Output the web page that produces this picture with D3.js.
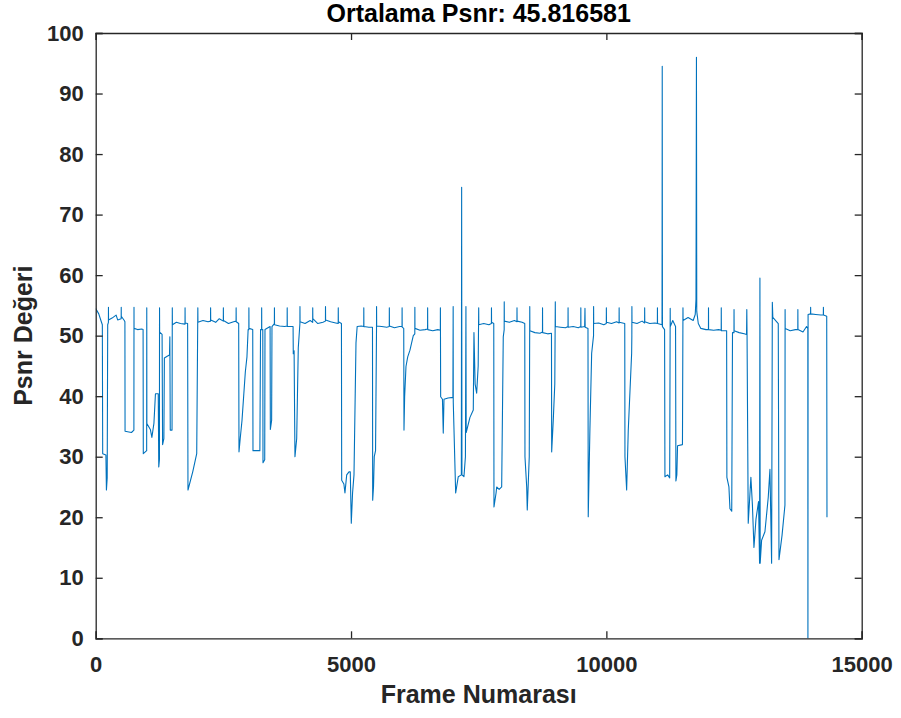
<!DOCTYPE html>
<html>
<head>
<meta charset="utf-8">
<script src="https://cdn.jsdelivr.net/npm/d3@7"></script>
<style>
  html, body { margin: 0; padding: 0; background: #fff; }
  svg { display: block; }
</style>
</head>
<body>
<div id="chart"></div>
<script>
// PSNR per frame, MATLAB-style line plot

const TITLE = 'Ortalama Psnr: 45.816581';
const X_LABEL = 'Frame Numarası';
const Y_LABEL = 'Psnr Değeri';
const X_TICKS = [0, 5000, 10000, 15000];
const Y_TICKS = [0, 10, 20, 30, 40, 50, 60, 70, 80, 90, 100];

// [frame, psnr], split by frame range
const seg1 = [
    [0,54.5],[60,53.6],[110,52.3],[130,51.8],[137,30.5],[200,30.3],[210,24.5],[225,26.5],[235,51.8],
    [249,52.2],[250,54.7],[251,52.6],[320,52.9],[400,53.4],[430,52.6],[499,52.8],
    [500,54.7],[501,53.2],[560,52.5],[572,52.3],[575,34.2],[700,34.0],[748,34.4],
    [750,54.7],[751,51.2],[820,51.0],[900,51.1],[928,51.0],[932,30.5],[998,31.0],
    [1000,54.6],[1002,35.5],[1070,34.5],[1100,33.2],[1140,35.5],[1170,40.4],[1225,40.4],[1235,28.3],[1248,29.5],
    [1250,54.6],[1252,50.6],[1300,50.2],[1310,32.0],[1335,33.0],[1345,46.3],[1400,46.6],[1445,46.8],[1452,49.8],[1460,34.4],[1495,34.4],
    [1500,54.6],[1502,51.8],[1580,52.2],[1660,52.0],[1749,51.9],
    [1750,54.6],[1752,52.1],[1800,52.0],[1807,24.5],[1900,27.5],[1978,30.5]
];
const seg2 = [
    [2000,54.6],[2002,52.2],[2100,52.5],[2200,52.3],[2249,52.4],[2250,54.6],[2252,52.6],[2350,52.2],[2420,52.8],[2499,52.4],
    [2500,54.6],[2502,52.5],[2600,52.0],[2700,52.3],[2749,52.4],[2750,54.6],[2752,52.3],[2800,52.0],[2806,30.8],[2830,33.0],
    [2865,36.0],[2930,44.0],[2962,46.5],[2985,51.0],[2999,51.0],[3000,54.6],[3002,51.2],[3075,51.0],[3080,31.0],[3215,31.0],
    [3228,51.0],[3249,51.0],[3250,54.6],[3252,51.0],[3272,51.0],[3276,29.0],[3310,29.5],[3315,51.0],[3415,51.5],[3420,34.5],
    [3445,36.0],[3452,51.5],[3499,52.0]
];
const seg3 = [
    [3500,54.6],[3502,51.8],[3600,51.6],[3700,51.5],[3749,51.6],[3750,54.6],[3752,51.5],[3865,51.5],[3869,47.0],[3885,47.5],
    [3902,30.0],[3936,33.0],[3967,48.0],[3999,52.0],[4000,54.8],[4002,52.3],[4100,52.0],[4200,52.5],[4249,52.2],[4250,54.6],
    [4252,52.8],[4350,52.0],[4450,52.2],[4499,52.4],[4500,54.8],[4502,52.6],[4600,52.3],[4700,52.1],[4749,52.0],[4750,54.6],
    [4752,52.3],[4812,52.0],[4817,26.1],[4860,25.5],[4881,24.0],[4915,27.0],[4960,27.5],[4985,27.5]
];
const seg4 = [
    [5005,19.0],[5030,24.0],[5058,27.0],[5097,48.8],[5120,51.5],[5200,51.6],[5249,51.5],[5250,54.6],[5252,51.5],[5350,51.4],
    [5420,51.4],[5424,22.8],[5440,25.0],[5455,30.0],[5480,31.0],[5499,51.0],[5500,54.8],[5502,51.6],[5600,51.5],[5700,51.4],
    [5749,51.5],[5750,54.6],[5752,51.6],[5850,51.3],[5950,51.5],[5999,51.5],[6000,54.6],[6002,51.4],[6032,51.2],[6037,34.4],
    [6050,40.0],[6076,44.9],[6110,46.5],[6154,47.6],[6219,50.0],[6249,50.3],[6250,54.7],[6252,51.2],[6350,50.9],[6450,51.0],
    [6499,51.1],[6500,54.6],[6502,51.0],[6600,50.8],[6700,51.0],[6749,50.9],[6750,54.6],[6755,39.9],[6790,39.5],[6806,33.9],
    [6820,39.5],[6900,39.7],[6995,39.8],[7000,54.8],[7002,39.0],[7049,24.0],[7100,26.7],[7160,27.0],[7166,74.5],[7172,27.0],
    [7211,26.7],[7240,30.0],[7250,54.8],[7255,34.0],[7329,36.5],[7394,37.7],[7407,50.5],[7430,42.0],[7460,40.5],[7490,45.0]
];
const seg5 = [
    [7500,54.6],[7502,51.8],[7600,52.0],[7700,51.8],[7749,52.0],[7750,54.6],[7752,52.2],[7795,52.0],[7799,21.7],[7840,24.0],
    [7852,25.0],[7900,24.6],[7950,25.0],[7981,49.8],[7999,51.0],[8000,55.6],[8002,52.4],[8100,52.2],[8200,52.5],[8249,52.3],
    [8250,54.6],[8252,52.4],[8350,52.2],[8402,52.0],[8406,30.0],[8440,25.0],[8451,21.2],[8490,30.0],[8500,54.8],[8502,50.8],
    [8600,50.5],[8700,50.4],[8749,50.6],[8750,54.6],[8752,50.5],[8850,50.3],[8925,50.4],[8929,30.8],[8960,36.0],[8990,42.0],
    [9000,55.6],[9002,51.5],[9100,51.4],[9200,51.3],[9249,51.5],[9250,54.6],[9252,51.4],[9350,51.5],[9450,51.3],[9499,51.5],
    [9500,54.6],[9502,51.4],[9575,51.5],[9581,54.5],[9585,51.4],[9640,51.2],[9645,20.1],[9678,34.6],[9712,47.1],[9749,50.0],
    [9750,54.8],[9752,52.0],[9850,52.1],[9950,51.8],[9999,52.0]
];
const seg6 = [
    [10000,54.6],[10002,52.2],[10100,52.0],[10200,52.3],[10249,52.1],[10250,54.6],[10252,52.2],[10360,52.0],[10364,30.0],[10397,24.5],
    [10429,34.4],[10495,47.1],[10499,50.0],[10500,54.8],[10502,52.2],[10600,52.0],[10700,52.4],[10749,52.1],[10750,54.6],[10752,52.3],
    [10850,52.0],[10950,52.1],[10999,52.0],[11000,54.6],[11002,52.0],[11090,51.8],[11094,94.5],[11098,51.5],[11140,51.0],[11147,26.7],
    [11200,27.0],[11240,26.5],[11250,54.5],[11252,51.5],[11300,52.5],[11355,51.5],[11362,26.0],[11380,27.0],[11394,31.8],[11490,32.0],
    [11500,54.6],[11502,52.5],[11600,53.0],[11700,52.5],[11740,53.5],[11755,56.0],[11764,96.0],[11770,54.0],[11800,52.0],[11850,51.2],
    [11950,51.0],[11999,51.0],[12000,54.6],[12002,51.0],[12100,50.9],[12200,51.0],[12249,50.9],[12250,54.6],[12252,50.8],[12355,50.8],
    [12360,26.6],[12400,25.0],[12420,21.4],[12455,21.0],[12470,50.5],[12499,50.5]
];
const seg7 = [
    [12500,54.3],[12502,50.8],[12600,50.5],[12700,50.3],[12745,50.2],[12750,54.3],[12755,50.0],[12778,19.0],[12830,26.6],[12860,22.0],
    [12890,15.0],[12930,19.7],[12980,22.6],[13000,12.4],[13007,59.5],[13012,12.4],[13040,16.2],[13105,17.6],[13170,23.3],[13203,27.9],
    [13236,12.4],[13250,55.5],[13260,53.0],[13366,52.0],[13380,13.0],[13440,17.0],[13497,22.0],[13500,54.3],[13502,51.2],[13600,50.8],
    [13700,51.0],[13749,51.0],[13750,54.3],[13752,51.0],[13850,50.6],[13920,51.5],[13945,51.2],[13947,0],[13950,53.5],[13999,53.6],
    [14000,54.7],[14002,53.6],[14100,53.5],[14200,53.4],[14249,53.4],[14250,54.7],[14252,53.4],[14315,53.2],[14320,20.0]
];

const psnr = [].concat(seg1, seg2, seg3, seg4, seg5, seg6, seg7);

const W = 901, H = 718;
const margin = { left: 95.7, right: W - 861.7, top: 33, bottom: H - 638.3 };
const FONT = '"Liberation Sans", Arial, sans-serif';
const AXIS_COLOR = '#262626';
const LINE_COLOR = '#0072BD';
const TICK_LEN = 7;

const svg = d3.select('#chart').append('svg')
    .attr('width', W).attr('height', H)
    .style('background', '#fff');

const x = d3.scaleLinear().domain([0, 15000]).range([margin.left, W - margin.right]);
const y = d3.scaleLinear().domain([0, 100]).range([H - margin.bottom, margin.top]);

svg.append('defs').append('clipPath').attr('id', 'plot-clip')
    .append('rect')
    .attr('x', x(0)).attr('y', y(100))
    .attr('width', x(15000) - x(0)).attr('height', y(0) - y(100));

// Data line
svg.append('path')
    .datum(psnr)
    .attr('clip-path', 'url(#plot-clip)')
    .attr('fill', 'none')
    .attr('stroke', LINE_COLOR)
    .attr('stroke-width', 1.1)
    .attr('stroke-linejoin', 'round')
    .attr('d', d3.line().x(d => x(d[0])).y(d => y(d[1])));

// Axes: bottom/left carry labels, top/right only ticks (box on)
const xAxis = d3.axisBottom(x).tickValues(X_TICKS).tickSize(-TICK_LEN).tickPadding(26).tickFormat(d3.format('d'));
const yAxis = d3.axisLeft(y).tickValues(Y_TICKS).tickSize(-TICK_LEN).tickPadding(12);
const xTop = d3.axisTop(x).tickValues(X_TICKS).tickSize(-TICK_LEN).tickFormat('');
const yRight = d3.axisRight(y).tickValues(Y_TICKS).tickSize(-TICK_LEN).tickFormat('');

function styleAxis(g) {
    g.select('.domain').attr('stroke', AXIS_COLOR).attr('stroke-width', 1.3);
    g.selectAll('.tick line').attr('stroke', AXIS_COLOR).attr('stroke-width', 1.3);
    g.selectAll('.tick text')
        .attr('fill', AXIS_COLOR)
        .attr('font-family', FONT)
        .attr('font-size', '22px')
        .attr('font-weight', 'bold');
}

svg.append('g').attr('transform', `translate(0,${y(0)})`).call(xAxis).call(styleAxis)
    .selectAll('.tick text').attr('dy', '0.35em');
svg.append('g').attr('transform', `translate(${x(0)},0)`).call(yAxis).call(styleAxis);
svg.append('g').attr('transform', `translate(0,${y(100)})`).call(xTop).call(styleAxis);
svg.append('g').attr('transform', `translate(${x(15000)},0)`).call(yRight).call(styleAxis);

// Title and axis labels
svg.append('text')
    .attr('x', (x(0) + x(15000)) / 2).attr('y', 22)
    .attr('text-anchor', 'middle')
    .attr('fill', '#000')
    .attr('font-family', FONT).attr('font-size', '25px').attr('font-weight', 'bold')
    .text(TITLE);

svg.append('text')
    .attr('x', (x(0) + x(15000)) / 2).attr('y', 703)
    .attr('text-anchor', 'middle')
    .attr('fill', AXIS_COLOR)
    .attr('font-family', FONT).attr('font-size', '25px').attr('font-weight', 'bold')
    .text(X_LABEL);

svg.append('text')
    .attr('transform', `translate(32,${(y(0) + y(100)) / 2}) rotate(-90)`)
    .attr('text-anchor', 'middle')
    .attr('fill', AXIS_COLOR)
    .attr('font-family', FONT).attr('font-size', '25px').attr('font-weight', 'bold')
    .text(Y_LABEL);
</script>
</body>
</html>
